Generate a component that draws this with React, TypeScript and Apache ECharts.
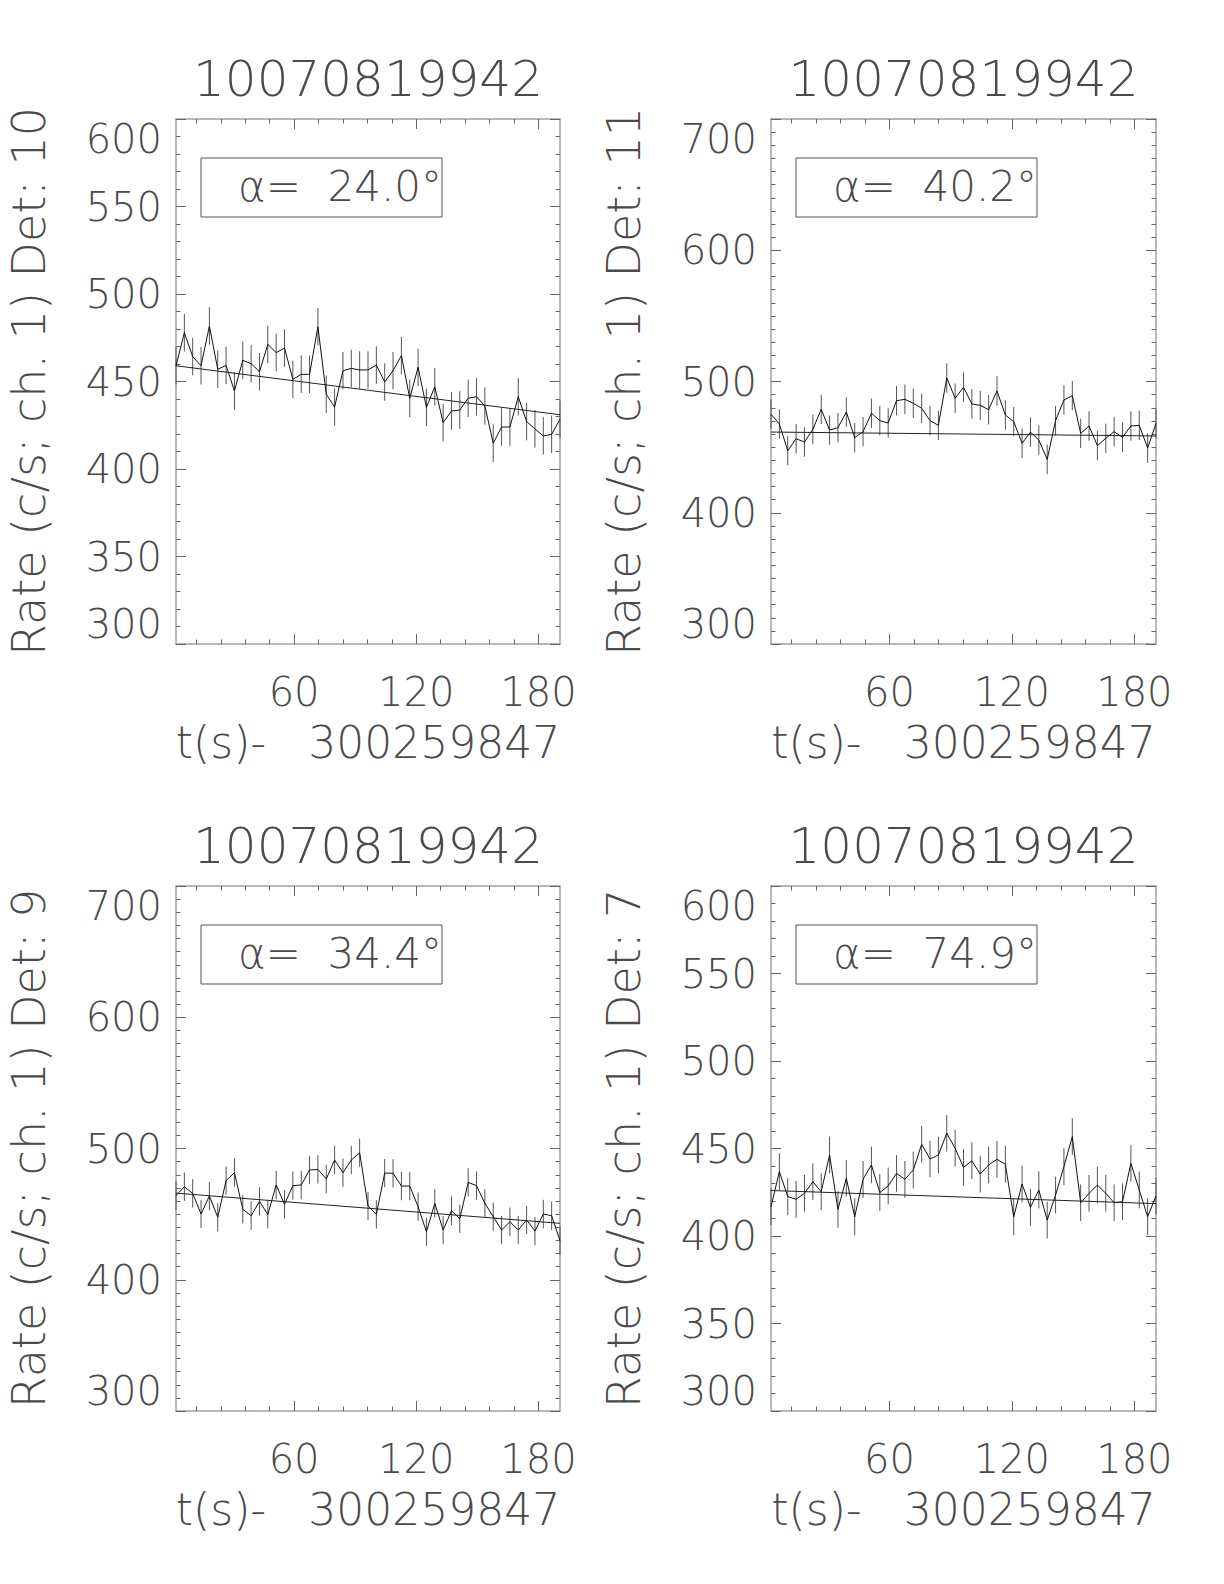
import React, { useEffect, useRef } from 'react';
import * as echarts from 'echarts';

const times = [2.0, 6.1, 10.2, 14.3, 18.4, 22.5, 26.6, 30.7, 34.8, 38.9, 43.0, 47.1, 51.2, 55.3, 59.4, 63.5, 67.6, 71.7, 75.8, 79.9, 84.0, 88.1, 92.2, 96.3, 100.4, 104.5, 108.6, 112.7, 116.8, 120.9, 125.0, 129.1, 133.2, 137.3, 141.4, 145.5, 149.6, 153.7, 157.8, 161.9, 166.0, 170.1, 174.2, 178.3, 182.4, 186.5, 190.6];

const det10Rate = [458.9, 477.9, 464.2, 459.0, 481.7, 457.0, 459.2, 444.6, 462.1, 460.2, 455.6, 471.2, 466.5, 469.1, 451.2, 454.1, 454.1, 481.3, 442.7, 435.4, 456.2, 457.5, 456.6, 456.6, 459.4, 449.7, 456.2, 464.8, 440.4, 458.1, 435.2, 447.0, 426.5, 433.1, 433.7, 440.4, 441.3, 436.0, 414.7, 424.0, 424.0, 441.3, 427.1, 422.9, 418.9, 419.8, 428.4];
const det11Rate = [475.2, 467.6, 447.3, 456.4, 453.9, 463.6, 478.8, 463.0, 464.8, 476.8, 457.2, 461.8, 475.8, 470.2, 468.4, 485.4, 486.4, 483.4, 479.6, 470.2, 466.6, 502.7, 487.2, 495.6, 482.9, 481.8, 478.5, 492.8, 474.5, 469.4, 452.9, 461.5, 455.4, 440.7, 470.2, 485.9, 489.2, 460.5, 466.1, 451.1, 456.7, 461.8, 457.5, 466.1, 466.6, 449.3, 468.1];
const det9Rate = [464.1, 470.9, 465.8, 450.1, 463.8, 447.6, 475.5, 481.6, 453.7, 448.8, 459.7, 449.8, 472.2, 457.5, 471.7, 472.2, 483.6, 484.1, 476.8, 491.2, 481.6, 491.2, 496.8, 456.2, 449.8, 481.3, 481.1, 471.4, 471.4, 455.7, 436.6, 458.2, 437.9, 452.6, 446.5, 474.2, 471.7, 458.2, 448.1, 437.9, 444.2, 437.9, 445.5, 437.1, 450.1, 448.8, 429.8];
const det7Rate = [416.8, 436.8, 422.5, 421.0, 424.4, 431.0, 425.3, 446.3, 415.2, 433.0, 411.0, 432.4, 440.6, 424.8, 428.6, 435.8, 432.4, 437.7, 452.4, 444.0, 446.3, 458.7, 450.1, 439.2, 443.0, 435.4, 440.6, 443.8, 441.0, 411.0, 429.7, 416.4, 426.3, 409.1, 423.4, 439.6, 456.8, 419.0, 424.4, 429.1, 424.4, 419.0, 419.6, 441.5, 426.3, 411.0, 422.9];

const fit10 = [459.0, 431.0];
const fit11 = [461.5, 458.5];
const fit9 = [466.0, 443.0];
const fit7 = [426.0, 418.5];

const errHalf = [10.7, 11.2, 10.8, 10.5];
const panelTitle = '10070819942';
const detLabels = ['10', '11', '9', '7'];
const alphaLabels = ['24.0', '40.2', '34.4', '74.9'];
const yMins = [300, 300, 300, 300];
const yMaxs = [600, 700, 700, 600];
const yMajorSteps = [50, 100, 100, 50];
const yMinorSplits = [5, 10, 10, 5];
const xMajorTicks = [60, 120, 180];
const xMinorTicks = [12, 24, 36, 48, 72, 84, 96, 108, 132, 144, 156, 168];
const xAxisName = 't(s)-   300259847';

const rates = [det10Rate, det11Rate, det9Rate, det7Rate];
const fits = [fit10, fit11, fit9, fit7];

const gridBoxes = [
  { left: 176, top: 119, width: 384, height: 525 },
  { left: 771, top: 119, width: 385, height: 525 },
  { left: 176, top: 886, width: 384, height: 525 },
  { left: 771, top: 886, width: 385, height: 525 },
];

const FONT = "'DejaVu Sans', sans-serif";
const TXT = '#4a4a4a';
const AXIS_LINE = { color: '#a0a0a0', width: 1.5 };
const TICK_LINE = { color: '#666', width: 1 };

export default function App() {
  const ref = useRef<HTMLDivElement>(null);
  useEffect(() => {
    if (!ref.current) return;
    const chart = echarts.init(ref.current, undefined, { renderer: 'svg' });
    const xMin = times[0];
    const xMax = times[times.length - 1];

    const grid: any[] = [];
    const xAxis: any[] = [];
    const yAxis: any[] = [];
    const series: any[] = [];
    const graphic: any[] = [];

    for (let p = 0; p < 4; p++) {
      const g = gridBoxes[p];
      grid.push({ left: g.left, top: g.top, width: g.width, height: g.height, containLabel: false });
      const xCommon = { type: 'value', gridIndex: p, min: xMin, max: xMax, splitLine: { show: false } };
      xAxis.push({
        ...xCommon,
        position: 'bottom',
        axisLine: { show: true, lineStyle: AXIS_LINE },
        axisTick: { show: true, inside: true, length: 10, customValues: xMajorTicks, lineStyle: TICK_LINE },
        axisLabel: { show: true, customValues: xMajorTicks, margin: 28, fontSize: 40, fontFamily: FONT, fontWeight: 200, color: TXT },
        name: xAxisName,
        nameLocation: 'middle',
        nameGap: 76,
        nameTextStyle: { fontSize: 44, fontFamily: FONT, fontWeight: 200, color: TXT },
      });
      xAxis.push({
        ...xCommon,
        position: 'bottom',
        axisLine: { show: false },
        axisTick: { show: true, inside: true, length: 4.5, customValues: xMinorTicks, lineStyle: TICK_LINE },
        axisLabel: { show: false },
      });
      xAxis.push({
        ...xCommon,
        position: 'top',
        axisLine: { show: true, lineStyle: AXIS_LINE },
        axisTick: { show: true, inside: true, length: 10, customValues: xMajorTicks, lineStyle: TICK_LINE },
        axisLabel: { show: false },
      });
      xAxis.push({
        ...xCommon,
        position: 'top',
        axisLine: { show: false },
        axisTick: { show: true, inside: true, length: 4.5, customValues: xMinorTicks, lineStyle: TICK_LINE },
        axisLabel: { show: false },
      });

      const yCommon = {
        type: 'value', gridIndex: p, min: yMins[p], max: yMaxs[p], interval: yMajorSteps[p],
        splitLine: { show: false }, minorSplitLine: { show: false },
        axisLine: { show: true, lineStyle: AXIS_LINE },
        axisTick: { show: true, inside: true, length: 10, lineStyle: TICK_LINE },
        minorTick: { show: true, splitNumber: yMinorSplits[p], length: 4.5, lineStyle: TICK_LINE },
      };
      yAxis.push({
        ...yCommon,
        position: 'left',
        axisLabel: {
          show: true, margin: 14, fontSize: 40, fontFamily: FONT, fontWeight: 200, color: TXT,
          verticalAlignMinLabel: 'bottom', verticalAlignMaxLabel: 'top',
        },
        name: 'Rate (c/s; ch. 1) Det: ' + detLabels[p],
        nameLocation: 'middle',
        nameRotate: 90,
        nameGap: 124,
        nameTextStyle: { fontSize: 46, fontFamily: FONT, fontWeight: 200, color: TXT },
      });
      yAxis.push({ ...yCommon, position: 'right', axisLabel: { show: false } });

      const xi = 4 * p;
      const yi = 2 * p;
      const rate = rates[p];
      const e = errHalf[p];
      series.push({
        type: 'custom',
        xAxisIndex: xi,
        yAxisIndex: yi,
        data: times.map((t, i) => [t, rate[i] - e, rate[i] + e]),
        renderItem: (params: any, api: any) => {
          const a = api.coord([api.value(0), api.value(1)]);
          const b = api.coord([api.value(0), api.value(2)]);
          return {
            type: 'line',
            shape: { x1: a[0], y1: a[1], x2: b[0], y2: b[1] },
            style: { stroke: '#555', lineWidth: 1 },
          };
        },
        silent: true,
      });
      series.push({
        type: 'line',
        xAxisIndex: xi,
        yAxisIndex: yi,
        data: times.map((t, i) => [t, rate[i]]),
        showSymbol: false,
        symbol: 'none',
        lineStyle: { color: '#111', width: 1 },
        silent: true,
      });
      series.push({
        type: 'line',
        xAxisIndex: xi,
        yAxisIndex: yi,
        data: [[xMin, fits[p][0]], [xMax, fits[p][1]]],
        showSymbol: false,
        symbol: 'none',
        lineStyle: { color: '#222', width: 1 },
        silent: true,
      });

      graphic.push({
        type: 'text',
        x: g.left + g.width / 2,
        y: g.top - 40,
        style: {
          text: panelTitle, fontSize: 50, fontFamily: FONT, fontWeight: 200, fill: TXT,
          textAlign: 'center', textVerticalAlign: 'middle', align: 'center', verticalAlign: 'middle',
        },
      });
      graphic.push({
        type: 'rect',
        shape: { x: g.left + 25, y: g.top + 39, width: 241, height: 59 },
        style: { fill: 'none', stroke: '#555', lineWidth: 1 },
      });
      graphic.push({
        type: 'text',
        x: g.left + 62,
        y: g.top + 67,
        style: {
          text: 'α=  ' + alphaLabels[p] + '°', fontSize: 42, fontFamily: FONT, fontWeight: 200, fill: TXT,
          textAlign: 'left', textVerticalAlign: 'middle', align: 'left', verticalAlign: 'middle',
        },
      });
    }

    chart.setOption({ animation: false, backgroundColor: '#fff', grid, xAxis, yAxis, series, graphic });
    return () => chart.dispose();
  }, []);

  return <div ref={ref} style={{ position: 'absolute', left: 0, top: 0, width: 1224, height: 1584 }} />;
}
